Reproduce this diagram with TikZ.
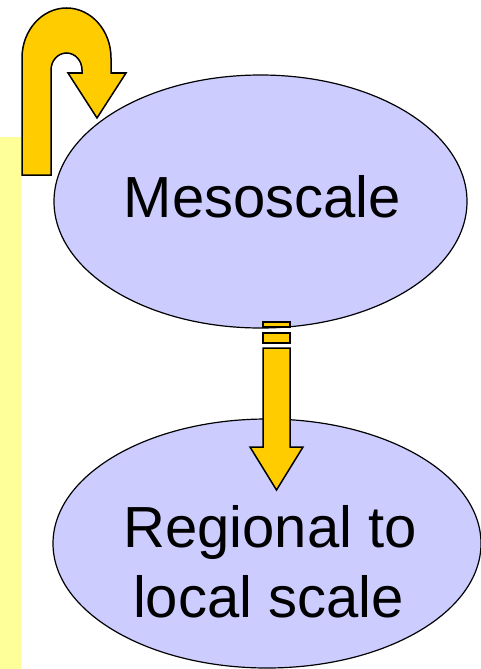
\documentclass[tikz,border=0pt]{standalone}
\usepackage{fontspec}
\setmainfont{Liberation Sans}
\usetikzlibrary{shapes.geometric}
\definecolor{stripyellow}{HTML}{FFFF99}
\definecolor{arrowyellow}{HTML}{FFCC00}
\definecolor{lavender}{HTML}{CCCCFF}
\tikzset{
  bubble/.style={ellipse,draw=black,line width=1.2pt,fill=lavender,inner sep=0pt},
  blockarrow/.style={draw=black,line width=1.5pt,fill=arrowyellow,line join=miter},
  label/.style={font=\fontsize{58}{70}\selectfont,inner sep=0pt,anchor=base}
}
\begin{document}
\begin{tikzpicture}[x=1pt,y=1pt]
\useasboundingbox (0,0) rectangle (481,-669);
% left strip
\fill[stripyellow] (0,-137) rectangle (21,-669);
% U-turn arrow
\draw[blockarrow] (22,-175) -- (22,-58)
  arc[start angle=180,end angle=0,x radius=44.5,y radius=50]
  -- (111,-73) -- (126,-73) -- (97,-118) -- (68,-73) -- (82,-73) -- (82,-70)
  arc[start angle=0,end angle=180,x radius=15.5,y radius=17]
  -- (51,-175) -- cycle;
% ellipses
\node[bubble,minimum width=413pt,minimum height=253pt] (meso) at (260.5,-201.5) {};
\node[bubble,minimum width=428pt,minimum height=249pt] (reg) at (267,-543.5) {};
\node[label] (mesotext) at (262.5,-217) {Mesoscale};
% down arrow
\draw[blockarrow] (263,-322) rectangle (290,-327);
\draw[blockarrow] (263,-333) rectangle (290,-343);
\draw[blockarrow] (263,-348) -- (290,-348) -- (290,-447) -- (303,-447)
  -- (276.5,-490) -- (250,-447) -- (263,-447) -- cycle;
\node[label] (regtext1) at (270,-547) {Regional to};
\node[label] (regtext2) at (268.5,-617) {local scale};
\end{tikzpicture}
\end{document}
